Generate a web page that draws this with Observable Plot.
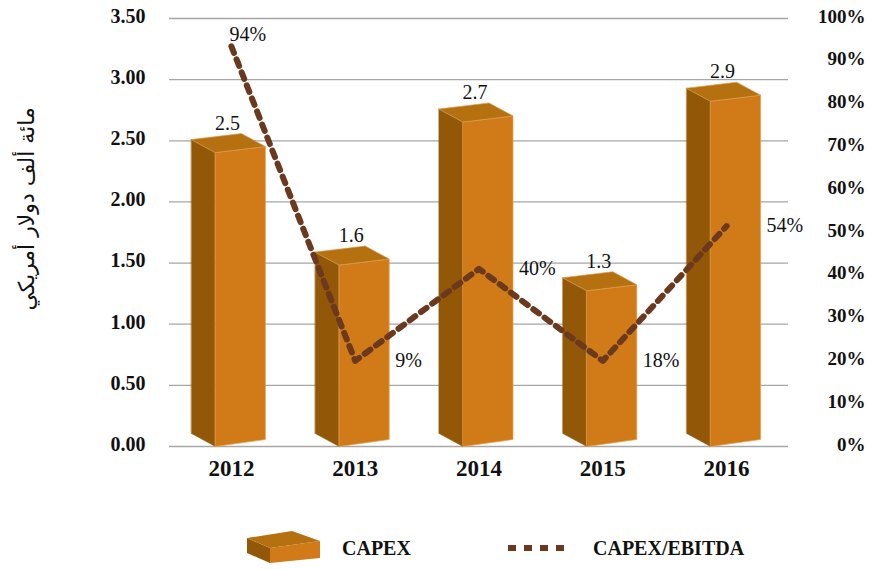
<!DOCTYPE html>
<html>
<head>
<meta charset="utf-8">
<script src="https://cdn.jsdelivr.net/npm/d3@7"></script>
<script src="https://cdn.jsdelivr.net/npm/@observablehq/plot@0.6"></script>
<style>
  html, body { margin: 0; padding: 0; background: #fff; }
  #wrap { width: 869px; height: 569px; position: relative; font-family: "Liberation Serif", serif; }
  #legend { position: absolute; left: 0; top: 500px; width: 869px; height: 69px; }
  .lg-text { position: absolute; font-weight: bold; font-size: 20px; color: #111; line-height: 1; }
</style>
</head>
<body>
<div id="wrap">
  <div id="chart"></div>
  <div id="legend">
    <svg width="869" height="69" style="position:absolute;left:0;top:0">
      <polygon points="247,38 270,48 270,63 247,53" fill="#935807"/>
      <polygon points="270,48 320,41 320,58 270,63" fill="#D07B17"/>
      <polygon points="247,38 292,31 320,41 270,48" fill="#B5700F"/>
      <line x1="508" y1="48" x2="566" y2="48" stroke="#6B3A1E" stroke-width="6" stroke-dasharray="8,8"/>
    </svg>
    <div class="lg-text" style="left:342px;top:38px">CAPEX</div>
    <div class="lg-text" style="left:593px;top:38px">CAPEX/EBITDA</div>
  </div>
</div>
<script>
// ---- data ----
const years = ["2012", "2013", "2014", "2015", "2016"];
const capex = [2.51, 1.59, 2.76, 1.38, 2.93];
const capexLabels = ["2.5", "1.6", "2.7", "1.3", "2.9"];
const ratio = [0.935, 0.20, 0.415, 0.20, 0.515];
const ratioLabels = ["94%", "9%", "40%", "18%", "54%"];
const leftTicks = [0, 0.5, 1, 1.5, 2, 2.5, 3, 3.5];
const rightTicks = [0, 0.1, 0.2, 0.3, 0.4, 0.5, 0.6, 0.7, 0.8, 0.9, 1.0];
const yTitle = "مائة ألف دولار أمريكي";

// ---- layout ----
const W = 869, H = 500;
const mL = 169, mR = 81, mT = 18, mB = 54;
const Y_MAX = 3.5;
const PX = 5 / (W - mL - mR);        // x data units per pixel
const PY = Y_MAX / (H - mT - mB);    // y data units per pixel

// 3D bar faces (polygon vertices in data units)
const sideFaces = [], frontFaces = [], topFaces = [];
capex.forEach((v, i) => {
  const c = i;
  [[c - 40 * PX, v], [c - 16 * PX, v - 13 * PY], [c - 16 * PX, 0], [c - 40 * PX, 13 * PY]]
    .forEach(([x, y]) => sideFaces.push({id: i, x, y}));
  [[c - 16 * PX, v - 13 * PY], [c + 34 * PX, v - 7 * PY], [c + 34 * PX, 7 * PY], [c - 16 * PX, 0]]
    .forEach(([x, y]) => frontFaces.push({id: i, x, y}));
  [[c - 40 * PX, v], [c + 10 * PX, v + 6 * PY], [c + 34 * PX, v - 7 * PY], [c - 16 * PX, v - 13 * PY]]
    .forEach(([x, y]) => topFaces.push({id: i, x, y}));
});

const barData = capex.map((v, i) => ({i, v, label: capexLabels[i]}));
const lineData = ratio.map((r, i) => ({i, y: r * Y_MAX, label: ratioLabels[i]}));

const chart = Plot.plot({
  width: W, height: H,
  marginLeft: mL, marginRight: mR, marginTop: mT, marginBottom: mB,
  style: {fontFamily: "Liberation Serif", background: "white", color: "#111"},
  x: {type: "linear", domain: [-0.5, 4.5]},
  y: {domain: [0, Y_MAX]},
  marks: [
    Plot.ruleY(leftTicks, {stroke: "#A6A6A6", strokeWidth: 1.3}),
    Plot.line(sideFaces, {x: "x", y: "y", z: "id", fill: "#935807", stroke: "#935807", strokeWidth: 0.5, curve: "linear-closed"}),
    Plot.line(frontFaces, {x: "x", y: "y", z: "id", fill: "#D07B17", stroke: "#E4A255", strokeWidth: 0.7, curve: "linear-closed"}),
    Plot.line(topFaces, {x: "x", y: "y", z: "id", fill: "#B5700F", stroke: "#D99A4E", strokeWidth: 0.7, curve: "linear-closed"}),
    Plot.line(lineData, {x: "i", y: "y", stroke: "#6B3A1E", strokeWidth: 6, strokeDasharray: "7,7"}),
    Plot.text(barData, {x: "i", y: "v", text: "label", dx: -4, dy: -10, lineAnchor: "bottom", fontSize: 20, fill: "#111"}),
    Plot.text(lineData, {filter: (d, i) => i === 0, x: "i", y: "y", text: "label", textAnchor: "start", dx: -2, dy: -12, fontSize: 20, fill: "#111"}),
    Plot.text(lineData, {filter: (d, i) => i > 0, x: "i", y: "y", text: "label", textAnchor: "start", dx: 40, dy: 0, fontSize: 20, fill: "#111"}),
    Plot.axisY({ticks: leftTicks, tickFormat: d => d.toFixed(2), tickSize: 0, tickPadding: 24, dy: -2, fontSize: 20, fontWeight: "bold", label: null}),
    Plot.text(rightTicks, {y: d => d * Y_MAX, text: d => Math.round(d * 100) + "%", frameAnchor: "right", textAnchor: "end", dx: 77, dy: -2, fontSize: 19, fontWeight: "bold", fill: "#111"}),
    Plot.axisX({ticks: [0, 1, 2, 3, 4], tickFormat: i => years[i], tickSize: 0, tickPadding: 13, fontSize: 23, fontWeight: "bold", label: null}),
    Plot.text([yTitle], {text: d => d, frameAnchor: "left", rotate: -90, dx: -143, dy: 78, fontSize: 22, fontFamily: "DejaVu Sans", fill: "#111"})
  ]
});
document.getElementById("chart").appendChild(chart);
</script>
</body>
</html>
